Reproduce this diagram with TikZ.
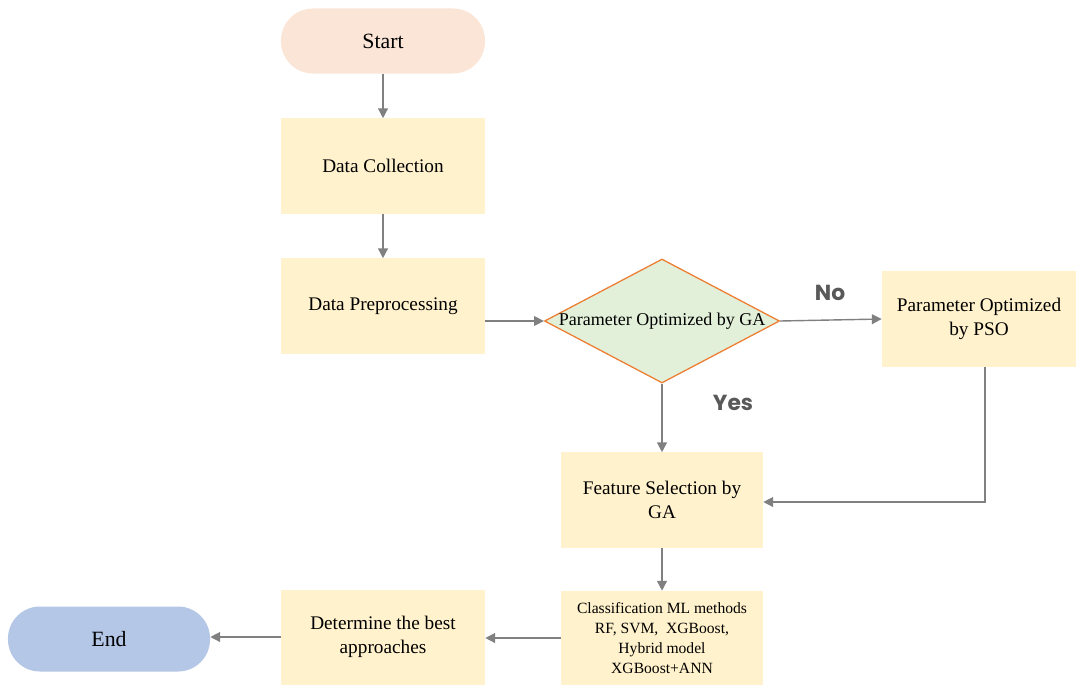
\documentclass[tikz,border=0pt]{standalone}
\usepackage{fontspec}
\setmainfont{Liberation Serif}
\newfontfamily\answerfont{Poppins}
\usetikzlibrary{arrows.meta, shapes.geometric}
\definecolor{startfill}{HTML}{FBE5D6}
\definecolor{endfill}{HTML}{B4C7E7}
\definecolor{boxfill}{HTML}{FFF2CC}
\definecolor{gafill}{HTML}{E2F0D9}
\definecolor{gaedge}{HTML}{ED7D31}
\definecolor{flowgrey}{HTML}{808080}
\definecolor{answergrey}{HTML}{595959}

\begin{document}
\begin{tikzpicture}[x=0.025cm, y=-0.025cm, >={Triangle[width=7pt, length=7pt]},
  procbox/.style={fill=boxfill, minimum width=5.1cm, minimum height=2.375cm, inner sep=2pt,
    align=center, font=\fontsize{13.7}{17}\selectfont},
  terminal/.style={rectangle, rounded corners=0.8cm, minimum width=5.1cm, minimum height=1.625cm,
    font=\fontsize{15.5}{18}\selectfont},
  decision/.style={diamond, draw=gaedge, line width=0.9pt, fill=gafill, inner sep=0pt,
    minimum width=5.875cm, minimum height=3.1cm},
  flow/.style={->, draw=flowgrey, line width=1pt},
  answer/.style={text=answergrey, font=\answerfont\bfseries\fontsize{15.5}{18}\selectfont}]
  \useasboundingbox (0,0) rectangle (1076,685);
  % Start and first steps
  \node[terminal, fill=startfill] (start) at (383,41) {Start};
  \node[procbox] (collect) at (383,166) {Data Collection};
  \node[procbox] (prep) at (383,306) {Data Preprocessing};
  % GA decision
  \node[decision, label={[font=\fontsize{12.8}{15}\selectfont]center:Parameter Optimized by GA}] (ga) at (662,321) {};
  % PSO branch
  \node[procbox, minimum width=4.85cm] (pso) at (979,319) {Parameter Optimized\\by PSO};
  % Feature selection and models
  \node[procbox, minimum width=5.05cm] (feat) at (662,500) {Feature Selection by\\GA};
  \node[procbox, minimum width=5.05cm, minimum height=2.35cm, font=\fontsize{11.1}{14.1}\selectfont]
    (classify) at (662,638) {Classification ML methods\\RF, SVM,\ \ XGBoost,\\Hybrid model\\XGBoost+ANN};
  \node[procbox] (best) at (383,637) {Determine the best\\approaches};
  % End
  \node[terminal, fill=endfill, minimum width=5.05cm] (end) at (109,639) {End};
  % Yes / No
  \node[answer] (no) at (830,293) {No};
  \node[answer] (yes) at (733,403) {Yes};
  % Connectors
  \draw[flow] (start) -- (collect);
  \draw[flow] (collect) -- (prep);
  \draw[flow] (prep.east |- ga.west) -- (ga.west);
  \draw[flow] (ga.east) -- (pso.west);
  \draw[flow] (ga.south) -- (feat.north);
  \draw[flow] ([xshift=0.15cm]pso.south) |- ([yshift=-0.05cm]feat.east);
  \draw[flow] (feat) -- (classify);
  \draw[flow] (classify.west) -- (best.east |- classify.west);
  \draw[flow] (best.west) -- (end.east |- best.west);
\end{tikzpicture}
\end{document}
